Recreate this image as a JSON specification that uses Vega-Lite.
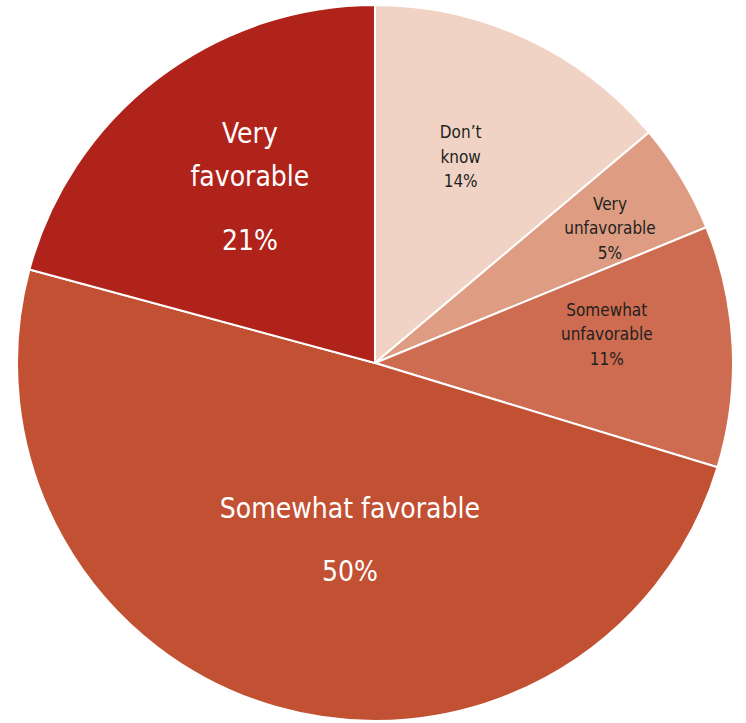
{
  "$schema": "https://vega.github.io/schema/vega-lite/v6.json",
  "width": 746,
  "height": 723,
  "autosize": {"type": "fit", "contains": "padding"},
  "padding": {"left": 4, "top": 3, "right": 0, "bottom": 0},
  "background": "white",
  "config": {"view": {"stroke": null}, "text": {"font": "DejaVu Sans Condensed, Roboto, sans-serif"}},
  "data": {
    "values": [
      {"category": "Don’t know", "order": 1, "value": 14, "label": ["Don’t", "know", "14%"], "name": ["Don’t", "know"], "pct": "14%"},
      {"category": "Very unfavorable", "order": 2, "value": 5, "label": ["Very", "unfavorable", "5%"], "name": ["Very", "unfavorable"], "pct": "5%"},
      {"category": "Somewhat unfavorable", "order": 3, "value": 11, "label": ["Somewhat", "unfavorable", "11%"], "name": ["Somewhat", "unfavorable"], "pct": "11%"},
      {"category": "Somewhat favorable", "order": 4, "value": 50, "label": ["Somewhat favorable", "50%"], "name": ["Somewhat favorable"], "pct": "50%"},
      {"category": "Very favorable", "order": 5, "value": 21, "label": ["Very", "favorable", "21%"], "name": ["Very", "favorable"], "pct": "21%"}
    ]
  },
  "encoding": {
    "theta": {"field": "value", "type": "quantitative", "stack": true},
    "order": {"field": "order", "type": "quantitative"}
  },
  "layer": [
    {
      "mark": {"type": "arc", "outerRadius": 358, "stroke": "white", "strokeWidth": 2},
      "encoding": {
        "color": {
          "field": "category",
          "type": "nominal",
          "legend": null,
          "scale": {
            "domain": ["Don’t know", "Very unfavorable", "Somewhat unfavorable", "Somewhat favorable", "Very favorable"],
            "range": ["#F0D3C5", "#DE9C82", "#CD6C50", "#C25033", "#B0231A"]
          }
        }
      }
    },
    {
      "mark": {"type": "text", "radius": 222, "dx": -8, "dy": -28.5, "fontSize": 17, "lineHeight": 24.5, "color": "#231F20", "align": "center", "baseline": "middle"},
      "encoding": {"text": {"condition": {"test": "datum.order == 1", "field": "label"}, "value": ""}}
    },
    {
      "mark": {"type": "text", "radius": 270, "dx": 4, "dy": -18.5, "fontSize": 17, "lineHeight": 24.5, "color": "#231F20", "align": "center", "baseline": "middle"},
      "encoding": {"text": {"condition": {"test": "datum.order == 2", "field": "label"}, "value": ""}}
    },
    {
      "mark": {"type": "text", "radius": 232, "dx": 0, "dy": -41.5, "fontSize": 17, "lineHeight": 24.5, "color": "#231F20", "align": "center", "baseline": "middle"},
      "encoding": {"text": {"condition": {"test": "datum.order == 3", "field": "label"}, "value": ""}}
    },
    {
      "mark": {"type": "text", "radius": 185, "dx": 26, "dy": -31, "fontSize": 28, "lineHeight": 43, "color": "white", "align": "center", "baseline": "middle"},
      "encoding": {"text": {"condition": {"test": "datum.order == 4", "field": "name"}, "value": ""}}
    },
    {
      "mark": {"type": "text", "radius": 185, "dx": 26, "dy": 32, "fontSize": 28, "color": "white", "align": "center", "baseline": "middle"},
      "encoding": {"text": {"condition": {"test": "datum.order == 4", "field": "pct"}, "value": ""}}
    },
    {
      "mark": {"type": "text", "radius": 220, "dx": 8.6, "dy": -53, "fontSize": 28, "lineHeight": 43, "color": "white", "align": "center", "baseline": "middle"},
      "encoding": {"text": {"condition": {"test": "datum.order == 5", "field": "name"}, "value": ""}}
    },
    {
      "mark": {"type": "text", "radius": 220, "dx": 8.6, "dy": 54, "fontSize": 28, "color": "white", "align": "center", "baseline": "middle"},
      "encoding": {"text": {"condition": {"test": "datum.order == 5", "field": "pct"}, "value": ""}}
    }
  ]
}
